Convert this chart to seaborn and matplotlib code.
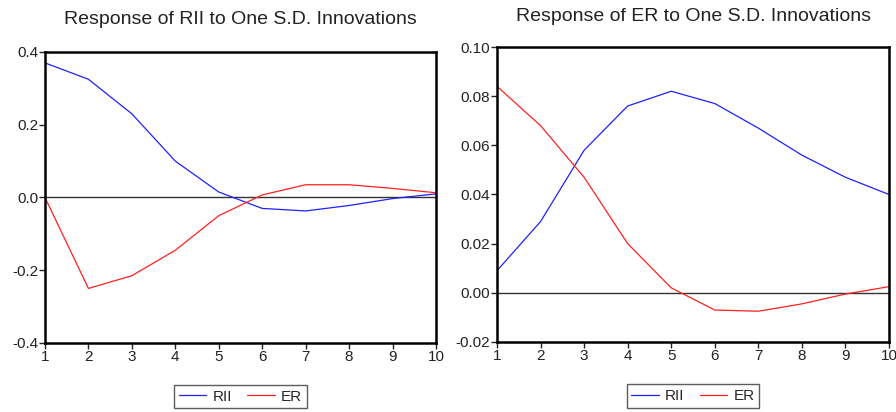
import numpy as np
import pandas as pd
import matplotlib
matplotlib.use("Agg")
import matplotlib.pyplot as plt
import seaborn as sns

periods = [1, 2, 3, 4, 5, 6, 7, 8, 9, 10]

# response of RII
rii_to_rii = [0.370, 0.325, 0.230, 0.100, 0.015, -0.030, -0.037, -0.022, -0.003, 0.010]
rii_to_er = [0.000, -0.250, -0.215, -0.145, -0.050, 0.007, 0.035, 0.035, 0.025, 0.013]

# response of ER
er_to_rii = [0.009, 0.029, 0.058, 0.076, 0.082, 0.077, 0.067, 0.056, 0.047, 0.040]
er_to_er = [0.084, 0.068, 0.047, 0.020, 0.002, -0.007, -0.0075, -0.0045, -0.0005, 0.0025]

titles = ["Response of RII to One S.D. Innovations",
          "Response of ER to One S.D. Innovations"]
yticks = [[-0.4, -0.2, 0.0, 0.2, 0.4],
          [-0.02, 0.00, 0.02, 0.04, 0.06, 0.08, 0.10]]
yfmt = ["%.1f", "%.2f"]

sns.set_style("white")
plt.rcParams['font.family'] = ['Liberation Sans', 'DejaVu Sans']


def make_df(a, b):
    return pd.DataFrame({
        "period": periods * 2,
        "value": a + b,
        "shock": ["RII"] * len(periods) + ["ER"] * len(periods),
    })


fig = plt.figure(figsize=(8.96, 4.12), dpi=100)
ax1 = fig.add_axes([0.0502, 0.1675, 0.4364, 0.7063])
ax2 = fig.add_axes([0.5547, 0.170, 0.4375, 0.7159])

dfs = [make_df(rii_to_rii, rii_to_er), make_df(er_to_rii, er_to_er)]

for i, (ax, df) in enumerate(zip([ax1, ax2], dfs)):
    ax.axhline(0, color="#333333", lw=1.0, zorder=1)
    sns.lineplot(data=df, x="period", y="value", hue="shock",
                 palette={"RII": "#2020ff", "ER": "#ff2020"},
                 lw=0.9, ax=ax, legend=False, zorder=2)
    ax.set_xlim(1, 10)
    ax.set_ylim(yticks[i][0], yticks[i][-1])
    ax.set_xticks(periods)
    ax.set_yticks(yticks[i])
    ax.set_yticklabels([yfmt[i] % v for v in yticks[i]])
    ax.set_xlabel("")
    ax.set_ylabel("")
    ax.tick_params(direction="out", length=4, width=1, labelsize=11,
                   colors="#222222", left=True, bottom=True, pad=1)
    for s in ax.spines.values():
        s.set_linewidth(1.8)
        s.set_color("black")
    ax.set_title(titles[i], fontsize=14, pad=20 if i == 0 else 19,
                 color="#222222")
    h = [plt.Line2D([], [], color="#2020ff", lw=0.9),
         plt.Line2D([], [], color="#ff2020", lw=0.9)]
    ax.legend(h, ["RII", "ER"], loc="upper center",
              bbox_to_anchor=(0.5, -0.118), ncol=2,
              frameon=True, fancybox=False, edgecolor="#333333",
              fontsize=11, handlelength=1.8, columnspacing=1.0,
              borderpad=0.3, handletextpad=0.4)

fig.savefig("out.png", dpi=100)
